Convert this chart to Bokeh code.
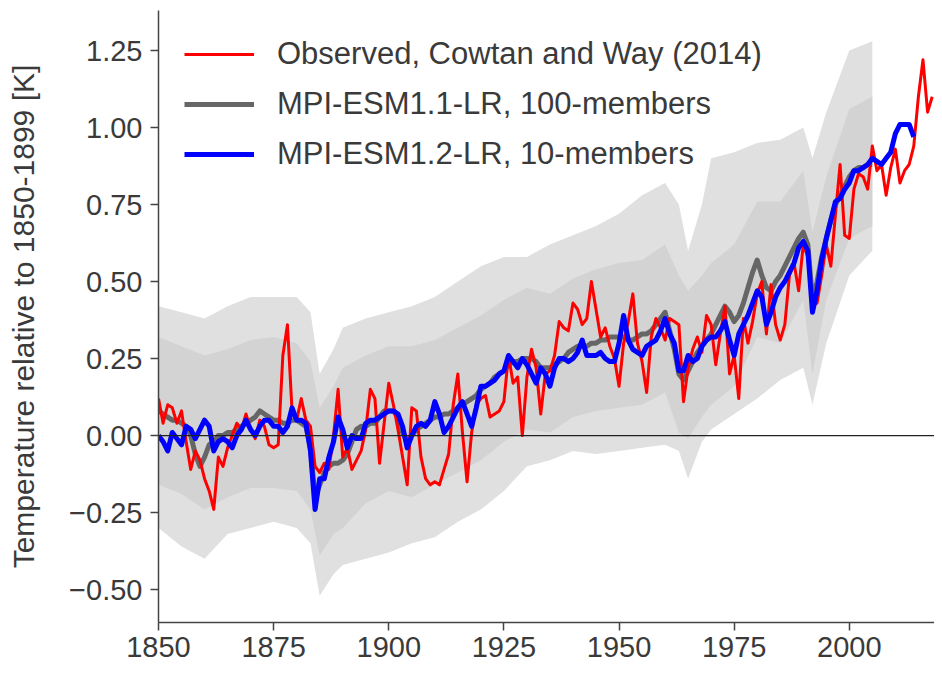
from bokeh.plotting import figure
from bokeh.models import Range1d, FixedTicker, Legend, LegendItem, Span
from bokeh.embed import file_html
from bokeh.resources import INLINE

# ---------------- data ----------------
obs_years = list(range(1850, 2019))
obs_vals = [
    0.12, 0.04, 0.10, 0.09, 0.04, 0.08, -0.02, -0.11, -0.05, -0.08,
    -0.14, -0.18, -0.24, -0.07, -0.10, -0.04, 0.00, 0.04, 0.02, 0.07,
    0.02, -0.01, 0.05, 0.03, -0.03, -0.04, -0.03, 0.26, 0.36, 0.08,
    0.05, 0.12, 0.05, 0.03, -0.10, -0.12, -0.09, -0.11, 0.00, 0.15,
    -0.07, -0.04, -0.11, -0.08, -0.05, 0.02, 0.15, 0.12, -0.09, 0.04,
    0.17, 0.10, 0.02, -0.07, -0.16, 0.09, 0.08, -0.07, -0.14, -0.16,
    -0.15, -0.16, -0.11, -0.06, 0.10, 0.20, 0.01, -0.15, 0.01, 0.10,
    0.12, 0.13, 0.06, 0.07, 0.08, 0.11, 0.26, 0.17, 0.19, 0.00,
    0.19, 0.28, 0.22, 0.07, 0.20, 0.21, 0.26, 0.37, 0.35, 0.34,
    0.43, 0.41, 0.36, 0.38, 0.50, 0.41, 0.32, 0.35, 0.29, 0.25,
    0.16, 0.30, 0.37, 0.46, 0.30, 0.24, 0.14, 0.32, 0.38, 0.35,
    0.31, 0.38, 0.37, 0.36, 0.11, 0.22, 0.28, 0.32, 0.27, 0.39,
    0.36, 0.23, 0.33, 0.42, 0.20, 0.26, 0.12, 0.38, 0.30, 0.37,
    0.46, 0.50, 0.33, 0.49, 0.36, 0.31, 0.36, 0.52, 0.56, 0.47,
    0.62, 0.58, 0.42, 0.43, 0.52, 0.62, 0.55, 0.72, 0.88, 0.65,
    0.64, 0.80, 0.85, 0.84, 0.80, 0.94, 0.86, 0.88, 0.78, 0.87,
    0.93, 0.82, 0.86, 0.88, 0.94, 1.10, 1.22, 1.05, 1.10,
]

esm12_years = list(range(1850, 2015))
esm12_vals = [
    0.00, -0.02, -0.05, 0.01, -0.01, -0.03, 0.03, 0.02, -0.01, 0.02,
    0.05, 0.03, -0.05, -0.02, -0.01, -0.02, -0.04, 0.00, 0.02, 0.05,
    0.02, 0.00, 0.03, 0.05, 0.05, 0.03, 0.03, 0.01, 0.03, 0.09,
    0.05, 0.05, 0.04, -0.05, -0.24, -0.14, -0.14, -0.07, -0.02, 0.06,
    0.02, -0.04, 0.00, -0.01, -0.01, 0.04, 0.05, 0.05, 0.06, 0.07,
    0.08, 0.08, 0.07, 0.03, -0.04, 0.00, 0.03, 0.04, 0.03, 0.05,
    0.11, 0.07, 0.01, 0.03, 0.06, 0.09, 0.11, 0.07, 0.03, 0.09,
    0.16, 0.16, 0.17, 0.18, 0.20, 0.21, 0.26, 0.24, 0.22, 0.25,
    0.23, 0.20, 0.17, 0.22, 0.20, 0.16, 0.22, 0.25, 0.25, 0.24,
    0.25, 0.27, 0.31, 0.26, 0.26, 0.26, 0.27, 0.25, 0.24, 0.24,
    0.30, 0.39, 0.31, 0.28, 0.27, 0.26, 0.29, 0.30, 0.31, 0.34,
    0.38, 0.33, 0.30, 0.21, 0.21, 0.26, 0.24, 0.25, 0.29, 0.31,
    0.32, 0.32, 0.34, 0.37, 0.31, 0.26, 0.33, 0.36, 0.39, 0.43,
    0.47, 0.45, 0.36, 0.40, 0.45, 0.48, 0.50, 0.53, 0.56, 0.61,
    0.63, 0.60, 0.40, 0.47, 0.57, 0.64, 0.70, 0.76, 0.77, 0.80,
    0.82, 0.86, 0.86, 0.87, 0.88, 0.90, 0.89, 0.88, 0.90, 0.92,
    0.98, 1.01, 1.01, 1.01, 0.97,
]

esm11_years = list(range(1850, 2006))
esm11_mean = [
    0.08, 0.07, 0.06, 0.05, 0.05, 0.04, 0.03, 0.00, -0.06, -0.10,
    -0.07, -0.03, -0.02, 0.00, 0.00, 0.01, 0.01, 0.02, 0.03, 0.04,
    0.05, 0.06, 0.08, 0.07, 0.06, 0.05, 0.05, 0.04, 0.04, 0.05,
    0.05, 0.04, 0.03, -0.04, -0.20, -0.16, -0.12, -0.10, -0.09, -0.09,
    -0.08, -0.06, -0.02, 0.02, 0.03, 0.03, 0.04, 0.04, 0.06, 0.08,
    0.08, 0.08, 0.06, 0.01, -0.02, 0.00, 0.02, 0.03, 0.04, 0.05,
    0.06, 0.06, 0.07, 0.07, 0.08, 0.09, 0.10, 0.11, 0.12, 0.13,
    0.15, 0.16, 0.17, 0.19, 0.20, 0.21, 0.23, 0.24, 0.24, 0.25,
    0.25, 0.25, 0.24, 0.22, 0.22, 0.22, 0.23, 0.24, 0.25, 0.27,
    0.28, 0.29, 0.29, 0.29, 0.30, 0.30, 0.31, 0.31, 0.32, 0.32,
    0.32, 0.32, 0.31, 0.31, 0.32, 0.33, 0.33, 0.34, 0.36, 0.38,
    0.40, 0.34, 0.28, 0.20, 0.18, 0.21, 0.24, 0.27, 0.29, 0.31,
    0.33, 0.36, 0.39, 0.42, 0.40, 0.37, 0.39, 0.43, 0.48, 0.53,
    0.57, 0.52, 0.48, 0.47, 0.50, 0.52, 0.55, 0.58, 0.61, 0.64,
    0.66, 0.62, 0.44, 0.50, 0.58, 0.64, 0.70, 0.75, 0.78, 0.81,
    0.84, 0.86, 0.87, 0.87, 0.88, 0.88,
]

# spread of the 100 members (outer envelope and dense core)
spread_years = [1850, 1855, 1860, 1865, 1870, 1875, 1880, 1883, 1885, 1888,
                1890, 1895, 1900, 1905, 1910, 1915, 1920, 1925, 1930, 1935,
                1940, 1945, 1950, 1955, 1960, 1963, 1965, 1968, 1970, 1975,
                1980, 1985, 1990, 1992, 1995, 2000, 2005]
spread_max = [0.42, 0.40, 0.38, 0.42, 0.45, 0.45, 0.45, 0.40, 0.20, 0.28,
              0.35, 0.38, 0.40, 0.42, 0.45, 0.50, 0.55, 0.58, 0.58, 0.62,
              0.65, 0.68, 0.72, 0.78, 0.82, 0.75, 0.60, 0.75, 0.90, 0.92,
              0.95, 0.96, 1.00, 0.90, 1.05, 1.25, 1.28]
spread_min = [-0.30, -0.36, -0.40, -0.32, -0.30, -0.28, -0.30, -0.35, -0.52, -0.45,
              -0.42, -0.40, -0.38, -0.35, -0.33, -0.28, -0.24, -0.18, -0.10, -0.08,
              -0.05, -0.06, -0.05, -0.04, -0.03, -0.05, -0.14, -0.02, 0.02, 0.07,
              0.12, 0.18, 0.22, 0.10, 0.30, 0.52, 0.60]
core_max = [0.32, 0.29, 0.26, 0.28, 0.31, 0.32, 0.30, 0.24, 0.09, 0.16,
            0.22, 0.26, 0.29, 0.29, 0.31, 0.35, 0.39, 0.44, 0.48, 0.46,
            0.51, 0.54, 0.56, 0.57, 0.62, 0.52, 0.47, 0.52, 0.56, 0.62,
            0.76, 0.76, 0.86, 0.66, 0.84, 1.06, 1.10]
core_min = [-0.16, -0.19, -0.24, -0.20, -0.17, -0.17, -0.18, -0.24, -0.39, -0.32,
            -0.30, -0.22, -0.18, -0.20, -0.16, -0.12, -0.08, -0.02, 0.02, 0.01,
            0.06, 0.08, 0.09, 0.10, 0.14, 0.01, -0.01, 0.06, 0.10, 0.16,
            0.32, 0.30, 0.44, 0.20, 0.44, 0.64, 0.68]

x_ticks = [1850, 1875, 1900, 1925, 1950, 1975, 2000]
y_ticks = [-0.5, -0.25, 0.0, 0.25, 0.5, 0.75, 1.0, 1.25]
y_tick_labels = ["\u22120.50", "\u22120.25", "0.00", "0.25", "0.50", "0.75", "1.00", "1.25"]

labels = ["Observed, Cowtan and Way (2014)",
          "MPI-ESM1.1-LR, 100-members",
          "MPI-ESM1.2-LR, 10-members"]

FONT = "Liberation Sans"
TXT = "#3a3a3a"

p = figure(width=934, height=667,
           x_range=Range1d(1850, 2018.5), y_range=Range1d(-0.607, 1.38),
           output_backend="svg", toolbar_location=None,
           min_border_left=158, min_border_right=0,
           min_border_top=10, min_border_bottom=45)
p.outline_line_color = None
p.xgrid.visible = False
p.ygrid.visible = False
p.background_fill_color = "white"

# ensemble spread
p.varea(x=spread_years, y1=spread_min, y2=spread_max, fill_color="#e0e0e0")
p.varea(x=spread_years, y1=core_min, y2=core_max, fill_color="#d3d3d3")

p.add_layout(Span(location=0, dimension="width", line_color="#222222", line_width=1.2))

r_gray = p.line(esm11_years, esm11_mean, line_color="#666666", line_width=5, line_join="round")
r_red = p.line(obs_years, obs_vals, line_color="#ff0000", line_width=3, line_join="round")
r_blue = p.line(esm12_years, esm12_vals, line_color="#0000ff", line_width=5, line_join="round")

for ax in (p.xaxis[0], p.yaxis[0]):
    ax.axis_line_color = "#444444"
    ax.axis_line_width = 1.5
    ax.major_tick_line_color = "#444444"
    ax.major_tick_line_width = 1.5
    ax.major_tick_out = 8
    ax.major_tick_in = 0
    ax.minor_tick_line_color = None
    ax.major_label_text_font = FONT
    ax.major_label_text_font_size = "29px"
    ax.major_label_text_color = TXT

p.xaxis.ticker = FixedTicker(ticks=x_ticks)
p.xaxis.major_label_overrides = {t: str(t) for t in x_ticks}
p.xaxis.major_label_standoff = 6

p.yaxis.ticker = FixedTicker(ticks=y_ticks)
p.yaxis.major_label_overrides = {t: l for t, l in zip(y_ticks, y_tick_labels)}
p.yaxis.major_label_standoff = 8
p.yaxis.axis_label = "Temperature relative to 1850-1899 [K]"
p.yaxis.axis_label_text_font = FONT
p.yaxis.axis_label_text_font_size = "30px"
p.yaxis.axis_label_text_font_style = "normal"
p.yaxis.axis_label_text_color = TXT
p.yaxis.axis_label_standoff = 26

legend = Legend(items=[LegendItem(label=labels[0], renderers=[r_red]),
                       LegendItem(label=labels[1], renderers=[r_gray]),
                       LegendItem(label=labels[2], renderers=[r_blue])],
                location="top_left", margin=26, padding=7, spacing=14,
                glyph_width=70, glyph_height=30, label_height=30,
                label_standoff=23, label_text_font=FONT,
                label_text_font_size="31px", label_text_color=TXT,
                border_line_color=None, background_fill_alpha=0)
p.add_layout(legend)

open("out.html", "w").write(file_html(p, INLINE))
